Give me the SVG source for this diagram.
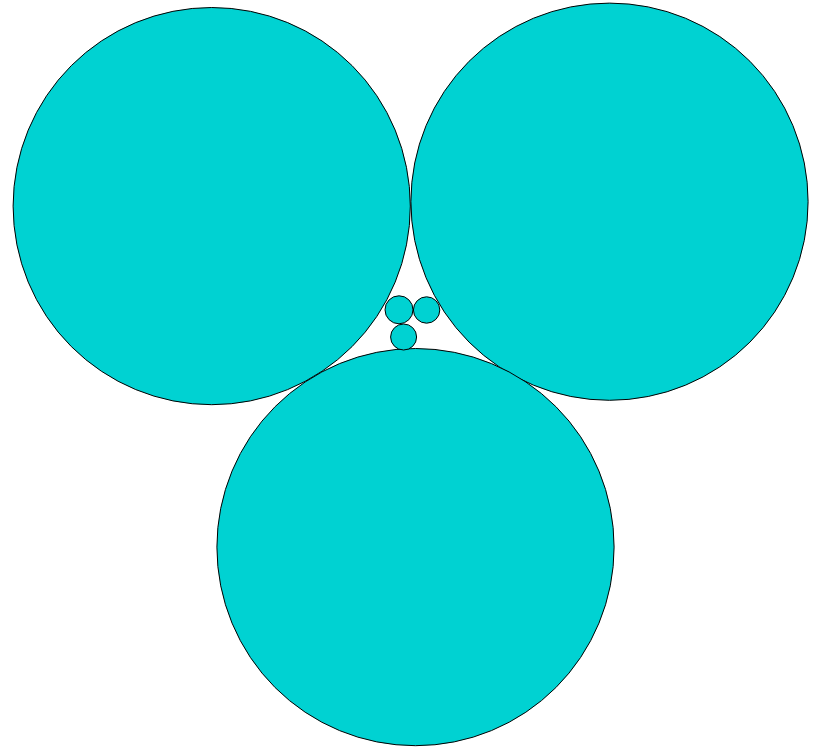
<svg xmlns="http://www.w3.org/2000/svg" width="814" height="749" viewBox="0 0 814 749">
<style>
circle { fill: #00D2D2; stroke: #000000; stroke-width: 1; }
</style>
<rect width="814" height="749" fill="#ffffff"/>
<g id="circle-left"><circle cx="211.7" cy="206.1" r="198.6"/></g>
<g id="circle-right"><circle cx="609.5" cy="201.7" r="198.6"/></g>
<g id="circle-bottom"><circle cx="415.5" cy="547.1" r="198.6"/></g>
<g id="small-a"><circle cx="399" cy="309.8" r="14"/></g>
<g id="small-b"><circle cx="426.6" cy="310" r="13.2"/></g>
<g id="small-c"><circle cx="403.6" cy="337" r="13"/></g>
<g id="connectors"></g>
</svg>
